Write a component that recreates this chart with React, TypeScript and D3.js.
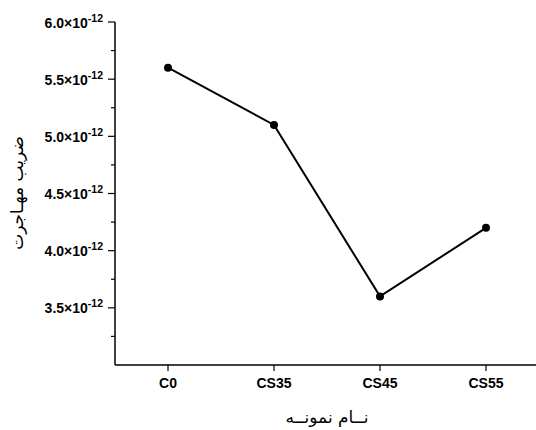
import React from "react";
import * as d3 from "d3";

const categories = ["C0", "CS35", "CS45", "CS55"];
const values = [5.6e-12, 5.1e-12, 3.6e-12, 4.2e-12];
const yTicks = [3.5e-12, 4.0e-12, 4.5e-12, 5.0e-12, 5.5e-12, 6.0e-12];
const yMinorTicks = [3.25e-12, 3.75e-12, 4.25e-12, 4.75e-12, 5.25e-12, 5.75e-12];
const xTitle = "نــام نمونــه";
const yTitle = "ضریب مهـاجرت";

export default function App() {
  const W = 536, H = 430;
  const left = 115, right = 539, top = 22, bottom = 365;
  const x = d3.scalePoint<string>().domain(categories).range([left, right]).padding(0.5);
  const y = d3.scaleLinear().domain([3.0e-12, 6.0e-12]).range([bottom, top]);
  const line = d3.line<number>().x((_, i) => x(categories[i])!).y((d) => y(d));
  const font = "'Liberation Sans', Arial, sans-serif";
  return (
    <svg width={W} height={H} style={{ position: "absolute", left: 0, top: 0, background: "#fff" }}>
      <line x1={left} y1={top} x2={left} y2={bottom} stroke="#000" strokeWidth={1.5} />
      <line x1={left} y1={bottom} x2={W} y2={bottom} stroke="#000" strokeWidth={1.5} />
      {yTicks.map((t) => (
        <g key={t}>
          <line x1={left - 7} x2={left} y1={y(t)} y2={y(t)} stroke="#000" strokeWidth={1.2} />
          <text x={left - 12} y={y(t) + 5.5} textAnchor="end" fontFamily={font} fontWeight="bold" fontSize={14} fill="#000">
            {(t * 1e12).toFixed(1)}×10
            <tspan dy={-6} fontSize={10.5}>-12</tspan>
          </text>
        </g>
      ))}
      {yMinorTicks.map((t) => (
        <line key={t} x1={left - 4} x2={left} y1={y(t)} y2={y(t)} stroke="#000" strokeWidth={1.2} />
      ))}
      {categories.map((c) => (
        <g key={c}>
          <line x1={x(c)!} x2={x(c)!} y1={bottom} y2={bottom + 6} stroke="#000" strokeWidth={1.2} />
          <text x={x(c)!} y={bottom + 23} textAnchor="middle" fontFamily={font} fontWeight="bold" fontSize={14} fill="#000">
            {c}
          </text>
        </g>
      ))}
      <path d={line(values) || ""} fill="none" stroke="#000" strokeWidth={2} />
      {values.map((v, i) => (
        <circle key={i} cx={x(categories[i])!} cy={y(v)} r={4} fill="#000" />
      ))}
      <text x={327} y={423} textAnchor="middle" fontFamily="'DejaVu Sans', sans-serif" fontSize={17} fill="#000" direction="rtl">
        {xTitle}
      </text>
      <text transform={`translate(23,193) rotate(-90)`} textAnchor="middle" fontFamily="'DejaVu Sans', sans-serif" fontSize={17} fill="#000" direction="rtl">
        {yTitle}
      </text>
    </svg>
  );
}
